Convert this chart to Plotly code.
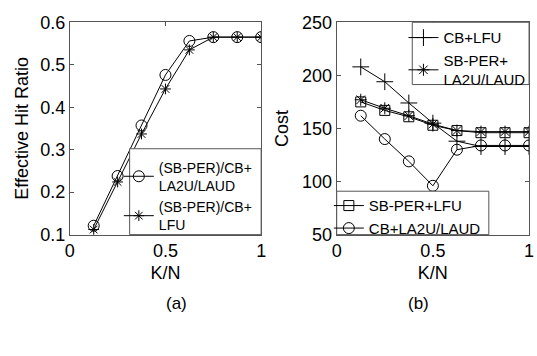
import plotly.graph_objects as go

W, H = 537, 356

# ---- data ----
kn = [0.125, 0.25, 0.375, 0.5, 0.625, 0.75, 0.875, 1.0]

# (a) Effective hit ratio
hit_la2u = [0.121, 0.238, 0.357, 0.476, 0.556, 0.565, 0.565, 0.565]
hit_lfu = [0.112, 0.224, 0.337, 0.443, 0.535, 0.565, 0.565, 0.565]

# (b) Cost
cost_cb_lfu = [208, 194, 174, 155, 138, 133, 133, 133]
cost_sbper_la2u = [177, 169, 162, 154, 148, 147, 147, 147]
cost_sbper_lfu = [175, 167, 161, 153, 148, 146, 146, 146]
cost_cb_la2u = [162, 140, 119, 96, 130, 134, 134, 134]

x_ticks = [0, 0.5, 1]
x_ticklabels = ["0", "0.5", "1"]
hit_ticks = [0.1, 0.2, 0.3, 0.4, 0.5, 0.6]
cost_ticks = [50, 100, 150, 200, 250]

FONT = "Liberation Sans, Arial, sans-serif"
TICK = 18

def px_x(p):
    return p / W

def px_y(p):
    return 1 - p / H

ax1 = [px_x(66), px_x(261)]
ax2 = [px_x(338), px_x(534)]
ydom = [px_y(238), px_y(13)]

fig = go.Figure()

line = dict(color="black", width=1)

fig.add_trace(go.Scatter(x=kn, y=hit_la2u, mode="lines+markers", name="(SB-PER)/CB+<br>LA2U/LAUD",
                         line=line, marker=dict(symbol="circle-open", size=11, color="black", line=dict(width=1)),
                         xaxis="x", yaxis="y", legend="legend"))
fig.add_trace(go.Scatter(x=kn, y=hit_lfu, mode="lines+markers", name="(SB-PER)/CB+<br>LFU",
                         line=line, marker=dict(symbol="asterisk-open", size=9, color="black", line=dict(width=1)),
                         xaxis="x", yaxis="y", legend="legend"))

fig.add_trace(go.Scatter(x=kn, y=cost_cb_lfu, mode="lines+markers", name="CB+LFU",
                         line=line, marker=dict(symbol="cross-thin-open", size=12, color="black", line=dict(width=1)),
                         xaxis="x2", yaxis="y2", legend="legend2"))
fig.add_trace(go.Scatter(x=kn, y=cost_sbper_la2u, mode="lines+markers", name="SB-PER+<br>LA2U/LAUD",
                         line=line, marker=dict(symbol="asterisk-open", size=10, color="black", line=dict(width=1)),
                         xaxis="x2", yaxis="y2", legend="legend2"))
fig.add_trace(go.Scatter(x=kn, y=cost_sbper_lfu, mode="lines+markers", name="SB-PER+LFU",
                         line=line, marker=dict(symbol="square-open", size=10, color="black", line=dict(width=1)),
                         xaxis="x2", yaxis="y2", legend="legend3"))
fig.add_trace(go.Scatter(x=kn, y=cost_cb_la2u, mode="lines+markers", name="CB+LA2U/LAUD",
                         line=line, marker=dict(symbol="circle-open", size=11, color="black", line=dict(width=1)),
                         xaxis="x2", yaxis="y2", legend="legend3"))

axis_common = dict(showline=True, linecolor="#555", linewidth=1, mirror="ticks", ticks="inside",
                   ticklen=4, tickcolor="#555", showgrid=False, zeroline=False,
                   tickfont=dict(family=FONT, size=TICK, color="black"))

leg_common = dict(xanchor="left", yanchor="top", bgcolor="rgba(0,0,0,0)",
                  itemwidth=30, tracegroupgap=0)

fig.update_layout(
    width=W, height=H, margin=dict(l=0, r=0, t=0, b=0),
    paper_bgcolor="white", plot_bgcolor="white",
    font=dict(family=FONT, color="black"),
    xaxis=dict(domain=ax1, range=[0, 1], tickvals=x_ticks, ticktext=x_ticklabels, anchor="y",
               title=dict(text="K/N", font=dict(size=TICK), standoff=6), **axis_common),
    yaxis=dict(domain=ydom, range=[0.1, 0.6], tickvals=hit_ticks, anchor="x",
               title=dict(text="Effective Hit Ratio", font=dict(size=TICK), standoff=6), **axis_common),
    xaxis2=dict(domain=ax2, range=[0, 1], tickvals=x_ticks, ticktext=x_ticklabels, anchor="y2",
                title=dict(text="K/N", font=dict(size=TICK), standoff=6), **axis_common),
    yaxis2=dict(domain=ydom, range=[50, 250], tickvals=cost_ticks, anchor="x2",
                title=dict(text="Cost", font=dict(size=TICK), standoff=8), **axis_common),
    legend=dict(x=px_x(116), y=px_y(150), font=dict(size=14, family=FONT), **leg_common),
    legend2=dict(x=px_x(406), y=px_y(12), font=dict(size=15, family=FONT), **leg_common),
    legend3=dict(x=px_x(330), y=px_y(190), font=dict(size=15, family=FONT), **leg_common),
    showlegend=True,
)

# legend boxes
box = dict(type="rect", xref="paper", yref="paper", line=dict(color="#555", width=1), fillcolor="white", layer="above")
fig.add_shape(x0=px_x(127), x1=px_x(261), y0=px_y(238), y1=px_y(147), **box)
fig.add_shape(x0=px_x(415), x1=px_x(534), y0=px_y(79), y1=px_y(13), **box)
fig.add_shape(x0=px_x(338), x1=px_x(493), y0=px_y(238), y1=px_y(192), **box)

fig.add_annotation(text="(a)", x=px_x(162), y=px_y(323), xref="paper", yref="paper", showarrow=False,
                   font=dict(size=17, family=FONT))
fig.add_annotation(text="(b)", x=px_x(434), y=px_y(323), xref="paper", yref="paper", showarrow=False,
                   font=dict(size=17, family=FONT))

fig.write_html("out.html")
